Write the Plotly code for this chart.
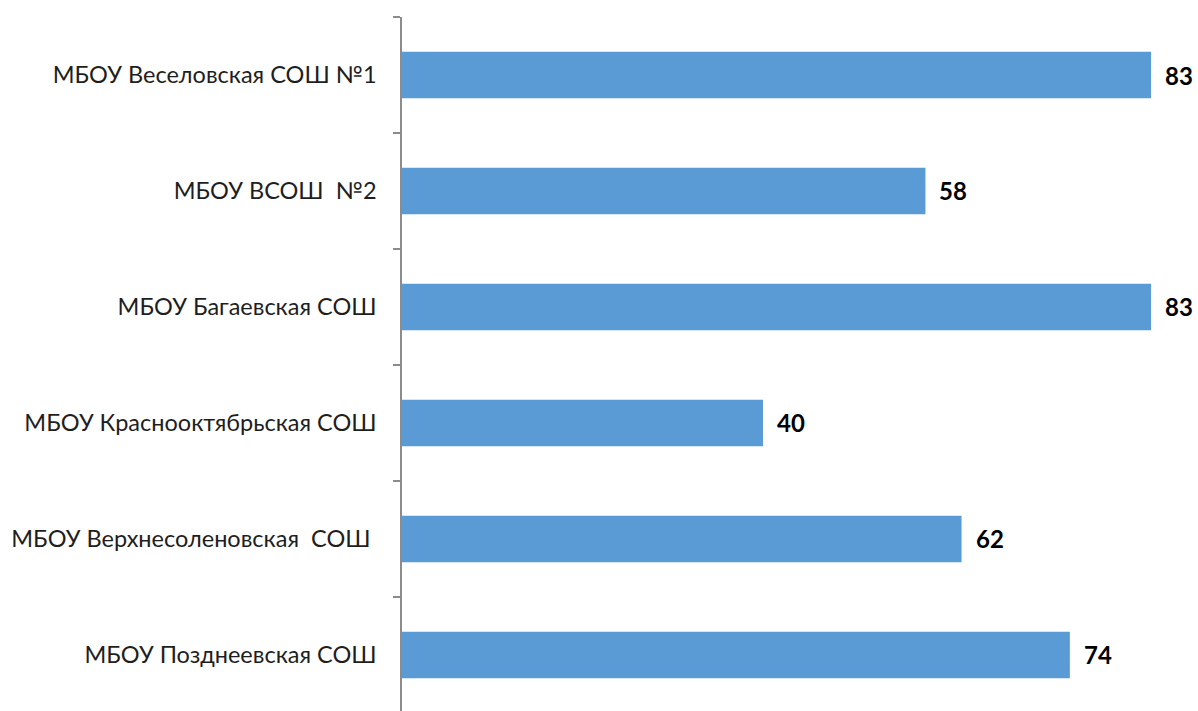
import plotly.graph_objects as go

schools = [
    "МБОУ Веселовская СОШ №1",
    "МБОУ ВСОШ  №2",
    "МБОУ Багаевская СОШ",
    "МБОУ Краснооктябрьская СОШ",
    "МБОУ Верхнесоленовская  СОШ ",
    "МБОУ Позднеевская СОШ",
]
values = [83, 58, 83, 40, 62, 74]

fig = go.Figure()
fig.add_trace(go.Bar(
    y=schools, x=values, orientation="h",
    marker=dict(color="#5B9BD5", line=dict(width=0)),
    width=0.4,
    hoverinfo="x+y",
))

for s, v in zip(schools, values):
    fig.add_annotation(
        x=v, y=s, text=f"<b>{v}</b>", showarrow=False,
        xanchor="left", yanchor="middle", xshift=12,
        font=dict(family="Lato", size=24, color="#000000"),
    )

fig.update_layout(
    width=1198, height=711,
    margin=dict(l=402, r=0, t=17, b=0),
    plot_bgcolor="white", paper_bgcolor="white",
    showlegend=False,
    bargap=0.6,
    font=dict(family="Lato", size=23.5, color="#1e1e1e"),
    xaxis=dict(range=[0, 88.2], visible=False, fixedrange=True),
    yaxis=dict(
        range=[5.483, -0.5],
        showline=True, linecolor="#8c8c8c", linewidth=1.5,
        ticks="outside", tickson="boundaries", ticklen=7, tickcolor="#8c8c8c",
        tickwidth=1.5,
        showgrid=False, zeroline=False,
        ticklabelstandoff=19,
        tickfont=dict(family="Lato", size=23.5, color="#1e1e1e"),
    ),
)

fig.write_html(
    "out.html",
    config={"displayModeBar": False},
    post_script="document.body.style.margin='0';document.body.style.overflow='hidden';",
)
